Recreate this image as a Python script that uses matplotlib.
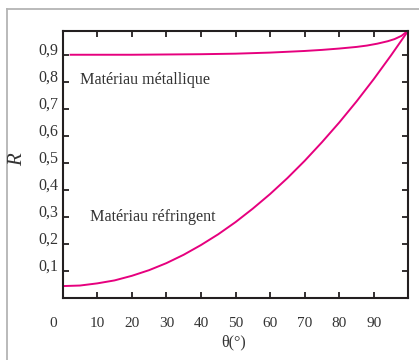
import matplotlib
matplotlib.use("Agg")
import matplotlib.pyplot as plt
from matplotlib.lines import Line2D
import matplotlib.transforms as mtransforms

# Reflection coefficient R versus incidence angle theta (degrees)
theta_refr = [0, 5, 10, 15, 20, 25, 30, 35, 40, 45, 50, 55, 60, 65, 70,
              75, 80, 85, 90, 95, 100]
r_refr = [0.043, 0.045, 0.053, 0.064, 0.081, 0.102, 0.128, 0.159, 0.195,
          0.235, 0.280, 0.330, 0.384, 0.443, 0.507, 0.576, 0.649, 0.727,
          0.810, 0.898, 0.990]

theta_metal = [2, 10, 20, 30, 40, 50, 60, 70, 75, 80, 85, 88, 91, 94, 96,
               98, 100]
r_metal = [0.900, 0.900, 0.900, 0.901, 0.902, 0.904, 0.908, 0.914, 0.918,
           0.923, 0.929, 0.934, 0.941, 0.950, 0.958, 0.970, 0.990]

x_ticks = [0, 10, 20, 30, 40, 50, 60, 70, 80, 90]
x_labels = ["0", "10", "20", "30", "40", "50", "60", "70", "80", "90"]
y_ticks = [0.1, 0.2, 0.3, 0.4, 0.5, 0.6, 0.7, 0.8, 0.9]
y_labels = ["0,1", "0,2", "0,3", "0,4", "0,5", "0,6", "0,7", "0,8", "0,9"]

label_metal = "Matériau métallique"
label_refr = "Matériau réfringent"

curve_color = "#e6007e"
ink = "#231f20"
text_col = "#333333"
serif = ["Liberation Serif", "DejaVu Serif"]

plt.rcParams["font.family"] = serif

fig = plt.figure(figsize=(4.19, 3.60), dpi=100)
ax = fig.add_axes([0.1496, 0.1731, 0.8234, 0.7408])

ax.plot(theta_refr, r_refr, color=curve_color, lw=1.4, solid_capstyle="butt")
ax.plot(theta_metal, r_metal, color=curve_color, lw=1.4, solid_capstyle="butt")

ax.set_xlim(0, 99.8)
ax.set_ylim(0, 0.988)

ax.set_xticks(x_ticks)
ax.set_xticklabels(x_labels)
ax.set_yticks(y_ticks)
ax.set_yticklabels(y_labels)

ax.tick_params(axis="both", direction="in", length=4.5, width=1.3,
               color=ink, labelcolor=text_col, labelsize=11)
ax.tick_params(axis="x", pad=14, top=True)
ax.tick_params(axis="y", pad=3, right=True, labelsize=11.5)

for s in ax.spines.values():
    s.set_linewidth(1.5)
    s.set_color(ink)

# origin label sits left of the corner
shift = mtransforms.ScaledTranslation(-9.4 / 100, 0, fig.dpi_scale_trans)
lab0 = ax.get_xticklabels()[0]
lab0.set_transform(lab0.get_transform() + shift)

for lab in ax.get_yticklabels():
    lab.set_va("baseline")

ax.text(0.05, 0.817, label_metal, transform=ax.transAxes, fontsize=11.6,
        color=text_col, va="center", ha="left")
ax.text(0.079, 0.302, label_refr, transform=ax.transAxes, fontsize=11.6,
        color=text_col, va="center", ha="left")

fig.text(17.5 / 419, 1 - 160 / 360, "R", rotation=90, fontsize=15,
         style="italic", color=text_col, ha="center", va="center")
fig.text(234 / 419, 1 - 342 / 360, "θ(°)", fontsize=11.5,
         color=text_col, ha="center", va="center")

# light outer frame (top and left edges)
frame_col = "#b4b4b4"
fig.add_artist(Line2D([7 / 419, 1.0], [1 - 9 / 360, 1 - 9 / 360],
                      transform=fig.transFigure, color=frame_col, lw=1.3))
fig.add_artist(Line2D([7 / 419, 7 / 419], [0.0, 1 - 9 / 360],
                      transform=fig.transFigure, color=frame_col, lw=1.3))

fig.savefig("out.png", dpi=100, facecolor="white")
